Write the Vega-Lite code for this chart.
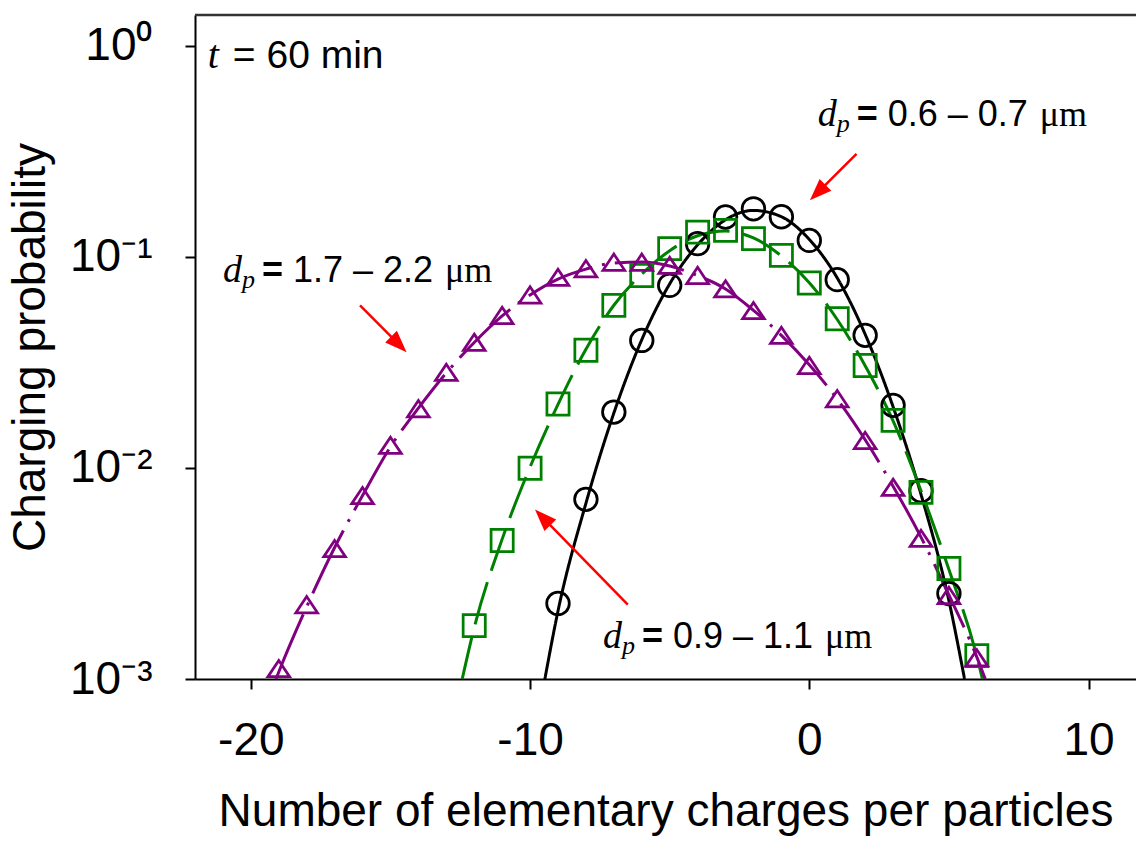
{
  "$schema": "https://vega.github.io/schema/vega-lite/v6.json",
  "width": 941,
  "height": 664,
  "autosize": {"type": "none"},
  "padding": {"left": 195, "top": 15, "right": 0, "bottom": 163},
  "background": "white",
  "config": {
    "view": {"stroke": null},
    "axis": {
      "domainColor": "#000000", "domainWidth": 2,
      "tickColor": "#000000", "tickWidth": 2, "tickSize": 10,
      "grid": false,
      "labelFont": "Liberation Sans", "labelFontSize": 46, "labelColor": "#000000",
      "titleFont": "Liberation Sans", "titleFontSize": 46, "titleFontWeight": "normal", "titleColor": "#000000"
    }
  },
  "datasets": {
    "frame": [{"q": -22, "q2": 11.7, "p": 1.4}],
    "lines": [
      {"s": "A", "q": -9.47, "p": 0.001}, {"s": "A", "q": -9, "p": 0.0021}, {"s": "A", "q": -8, "p": 0.0068},
      {"s": "A", "q": -7, "p": 0.0182}, {"s": "A", "q": -6, "p": 0.0405}, {"s": "A", "q": -5, "p": 0.0745},
      {"s": "A", "q": -4, "p": 0.114}, {"s": "A", "q": -3, "p": 0.150}, {"s": "A", "q": -2, "p": 0.166},
      {"s": "A", "q": -1, "p": 0.155}, {"s": "A", "q": 0, "p": 0.121}, {"s": "A", "q": 1, "p": 0.0795},
      {"s": "A", "q": 2, "p": 0.043}, {"s": "A", "q": 3, "p": 0.0195}, {"s": "A", "q": 4, "p": 0.0075},
      {"s": "A", "q": 5, "p": 0.00235}, {"s": "A", "q": 5.56, "p": 0.001},
      {"s": "B", "q": -12.43, "p": 0.001}, {"s": "B", "q": -12, "p": 0.00175}, {"s": "B", "q": -11, "p": 0.0046},
      {"s": "B", "q": -10, "p": 0.0101}, {"s": "B", "q": -9, "p": 0.0200}, {"s": "B", "q": -8, "p": 0.0365},
      {"s": "B", "q": -7, "p": 0.059}, {"s": "B", "q": -6, "p": 0.083}, {"s": "B", "q": -5, "p": 0.107},
      {"s": "B", "q": -4, "p": 0.126}, {"s": "B", "q": -3, "p": 0.1325}, {"s": "B", "q": -2, "p": 0.123},
      {"s": "B", "q": -1, "p": 0.101}, {"s": "B", "q": 0, "p": 0.0755}, {"s": "B", "q": 1, "p": 0.0505},
      {"s": "B", "q": 2, "p": 0.0305}, {"s": "B", "q": 3, "p": 0.0167}, {"s": "B", "q": 4, "p": 0.0078},
      {"s": "B", "q": 5, "p": 0.0033}, {"s": "B", "q": 6, "p": 0.00128}, {"s": "B", "q": 6.2, "p": 0.001},
      {"s": "C", "q": -19.1, "p": 0.001}, {"s": "C", "q": -19, "p": 0.00108}, {"s": "C", "q": -18, "p": 0.0022},
      {"s": "C", "q": -17, "p": 0.0042}, {"s": "C", "q": -16, "p": 0.0074}, {"s": "C", "q": -15, "p": 0.0126},
      {"s": "C", "q": -14, "p": 0.0192}, {"s": "C", "q": -13, "p": 0.0282}, {"s": "C", "q": -12, "p": 0.0393},
      {"s": "C", "q": -11, "p": 0.0525}, {"s": "C", "q": -10, "p": 0.066}, {"s": "C", "q": -9, "p": 0.0785},
      {"s": "C", "q": -8, "p": 0.0875}, {"s": "C", "q": -7, "p": 0.0935}, {"s": "C", "q": -6, "p": 0.0945},
      {"s": "C", "q": -5, "p": 0.0905}, {"s": "C", "q": -4, "p": 0.0815}, {"s": "C", "q": -3, "p": 0.0705},
      {"s": "C", "q": -2, "p": 0.0558}, {"s": "C", "q": -1, "p": 0.0425}, {"s": "C", "q": 0, "p": 0.0308},
      {"s": "C", "q": 1, "p": 0.0212}, {"s": "C", "q": 2, "p": 0.0136}, {"s": "C", "q": 3, "p": 0.0082},
      {"s": "C", "q": 4, "p": 0.0047}, {"s": "C", "q": 5, "p": 0.0025}, {"s": "C", "q": 6, "p": 0.00127},
      {"s": "C", "q": 6.3, "p": 0.001}
    ],
    "points": [
      {"s": "A", "q": -9, "p": 0.00228}, {"s": "A", "q": -8, "p": 0.0071}, {"s": "A", "q": -7, "p": 0.0184},
      {"s": "A", "q": -6, "p": 0.0402}, {"s": "A", "q": -5, "p": 0.0733}, {"s": "A", "q": -4, "p": 0.1155},
      {"s": "A", "q": -3, "p": 0.1546}, {"s": "A", "q": -2, "p": 0.169}, {"s": "A", "q": -1, "p": 0.155},
      {"s": "A", "q": 0, "p": 0.1197}, {"s": "A", "q": 1, "p": 0.078}, {"s": "A", "q": 2, "p": 0.0425},
      {"s": "A", "q": 3, "p": 0.0198}, {"s": "A", "q": 4, "p": 0.0078}, {"s": "A", "q": 5, "p": 0.00254},
      {"s": "B", "q": -12, "p": 0.00179}, {"s": "B", "q": -11, "p": 0.00453}, {"s": "B", "q": -10, "p": 0.00996},
      {"s": "B", "q": -9, "p": 0.0201}, {"s": "B", "q": -8, "p": 0.0361}, {"s": "B", "q": -7, "p": 0.0589},
      {"s": "B", "q": -6, "p": 0.0816}, {"s": "B", "q": -5, "p": 0.1094}, {"s": "B", "q": -4, "p": 0.131},
      {"s": "B", "q": -3, "p": 0.1335}, {"s": "B", "q": -2, "p": 0.122}, {"s": "B", "q": -1, "p": 0.1017},
      {"s": "B", "q": 0, "p": 0.0752}, {"s": "B", "q": 1, "p": 0.0509}, {"s": "B", "q": 2, "p": 0.0306},
      {"s": "B", "q": 3, "p": 0.0168}, {"s": "B", "q": 4, "p": 0.00766}, {"s": "B", "q": 5, "p": 0.00334},
      {"s": "B", "q": 6, "p": 0.00129},
      {"s": "C", "q": -19, "p": 0.00112}, {"s": "C", "q": -18, "p": 0.00225}, {"s": "C", "q": -17, "p": 0.00415},
      {"s": "C", "q": -16, "p": 0.0074}, {"s": "C", "q": -15, "p": 0.0128}, {"s": "C", "q": -14, "p": 0.0191},
      {"s": "C", "q": -13, "p": 0.0284}, {"s": "C", "q": -12, "p": 0.0394}, {"s": "C", "q": -11, "p": 0.0528},
      {"s": "C", "q": -10, "p": 0.066}, {"s": "C", "q": -9, "p": 0.080}, {"s": "C", "q": -8, "p": 0.0879},
      {"s": "C", "q": -7, "p": 0.0944}, {"s": "C", "q": -6, "p": 0.0944}, {"s": "C", "q": -5, "p": 0.0912},
      {"s": "C", "q": -4, "p": 0.0817}, {"s": "C", "q": -3, "p": 0.0706}, {"s": "C", "q": -2, "p": 0.0557},
      {"s": "C", "q": -1, "p": 0.0425}, {"s": "C", "q": 0, "p": 0.0306}, {"s": "C", "q": 1, "p": 0.0213},
      {"s": "C", "q": 2, "p": 0.0135}, {"s": "C", "q": 3, "p": 0.0081}, {"s": "C", "q": 4, "p": 0.00464},
      {"s": "C", "q": 5, "p": 0.00249}, {"s": "C", "q": 6, "p": 0.00126}
    ],
    "arrows": [
      {"q": 1.69, "p": 0.308, "q2": 0.30, "p2": 0.2017, "angle": 225},
      {"q": -16.09, "p": 0.0589, "q2": -14.70, "p2": 0.0385, "angle": 135},
      {"q": -6.50, "p": 0.00225, "q2": -9.55, "p2": 0.00583, "angle": 315.6}
    ],
    "labels": [
      {"q": 0.30, "p": 0.4155, "range": "0.6 – 0.7"},
      {"q": -21.0, "p": 0.0757, "range": "1.7 – 2.2"},
      {"q": -7.39, "p": 0.001395, "range": "0.9 – 1.1"}
    ],
    "time": [{"q": -21.54, "p": 0.782}]
  },
  "encoding": {
    "x": {
      "field": "q", "type": "quantitative",
      "scale": {"domain": [-22, 11.7], "nice": false, "zero": false},
      "axis": {
        "values": [-20, -10, 0, 10],
        "labelExpr": "'' + datum.value",
        "labelPadding": 29,
        "titlePadding": 26,
        "title": "Number of elementary charges per particles"
      }
    },
    "y": {
      "field": "p", "type": "quantitative",
      "scale": {"type": "log", "domain": [0.001, 1.4], "nice": false},
      "axis": {
        "values": [0.001, 0.01, 0.1, 1],
        "labelExpr": "datum.value >= 0.5 ? '10⁰' : datum.value >= 0.05 ? '10⁻¹' : datum.value >= 0.005 ? '10⁻²' : '10⁻³'",
        "labelPadding": 33,
        "titlePadding": 15,
        "title": "Charging probability"
      }
    }
  },
  "layer": [
    {
      "data": {"name": "frame"},
      "mark": {"type": "rule", "color": "#333333", "strokeWidth": 2.5},
      "encoding": {"x2": {"field": "q2"}}
    },
    {
      "data": {"name": "lines"},
      "mark": {"type": "line", "interpolate": "monotone", "strokeWidth": 3, "clip": true},
      "encoding": {
        "color": {"field": "s", "type": "nominal", "legend": null,
          "scale": {"domain": ["A", "B", "C"], "range": ["#000000", "#008000", "#800080"]}},
        "strokeDash": {"field": "s", "type": "nominal", "legend": null,
          "scale": {"domain": ["A", "B", "C"], "range": [[1, 0], [44, 12], [70, 10, 3, 10]]}}
      }
    },
    {
      "data": {"name": "points"},
      "mark": {"type": "point", "filled": false, "strokeWidth": 2.75, "opacity": 1},
      "encoding": {
        "color": {"field": "s", "type": "nominal", "legend": null,
          "scale": {"domain": ["A", "B", "C"], "range": ["#000000", "#008000", "#800080"]}},
        "shape": {"field": "s", "type": "nominal", "legend": null,
          "scale": {"domain": ["A", "B", "C"], "range": ["circle", "square", "M0,-0.75L1,0.75L-1,0.75Z"]}},
        "size": {"field": "s", "type": "ordinal", "legend": null,
          "scale": {"domain": ["A", "B", "C"], "range": [510, 470, 784]}}
      }
    },
    {
      "data": {"name": "arrows"},
      "mark": {"type": "rule", "color": "#ff0000", "strokeWidth": 2.5},
      "encoding": {
        "x2": {"field": "q2"},
        "y2": {"field": "p2"}
      }
    },
    {
      "data": {"name": "arrows"},
      "mark": {"type": "point", "shape": "M0,-1L0.75,1L-0.75,1Z", "filled": true, "color": "#ff0000", "size": 484, "opacity": 1, "strokeWidth": 0},
      "encoding": {
        "x": {"field": "q2", "type": "quantitative"},
        "y": {"field": "p2", "type": "quantitative"},
        "angle": {"field": "angle", "type": "quantitative", "scale": null}
      }
    },
    {
      "data": {"name": "labels"},
      "mark": {"type": "text", "text": "d", "font": "Liberation Serif", "fontStyle": "italic", "fontSize": 38, "align": "left", "baseline": "alphabetic", "color": "#000000"}
    },
    {
      "data": {"name": "labels"},
      "mark": {"type": "text", "text": "p", "font": "Liberation Serif", "fontStyle": "italic", "fontSize": 26, "align": "left", "baseline": "alphabetic", "dx": 19, "dy": 6, "color": "#000000"}
    },
    {
      "data": {"name": "labels"},
      "mark": {"type": "text", "text": "=", "font": "Liberation Sans", "fontWeight": "bold", "fontSize": 36, "align": "left", "baseline": "alphabetic", "dx": 39, "color": "#000000"}
    },
    {
      "data": {"name": "labels"},
      "mark": {"type": "text", "font": "Liberation Sans", "fontSize": 36, "align": "left", "baseline": "alphabetic", "dx": 70, "color": "#000000"},
      "encoding": {"text": {"field": "range", "type": "nominal"}}
    },
    {
      "data": {"name": "labels"},
      "mark": {"type": "text", "text": "μm", "font": "Liberation Serif", "fontSize": 36, "align": "left", "baseline": "alphabetic", "dx": 222, "color": "#000000"}
    },
    {
      "data": {"name": "time"},
      "mark": {"type": "text", "text": "t", "font": "Liberation Serif", "fontStyle": "italic", "fontSize": 40, "align": "left", "baseline": "alphabetic", "color": "#000000"}
    },
    {
      "data": {"name": "time"},
      "mark": {"type": "text", "text": "= 60 min", "font": "Liberation Sans", "fontSize": 39, "align": "left", "baseline": "alphabetic", "dx": 25, "color": "#000000"}
    }
  ]
}
